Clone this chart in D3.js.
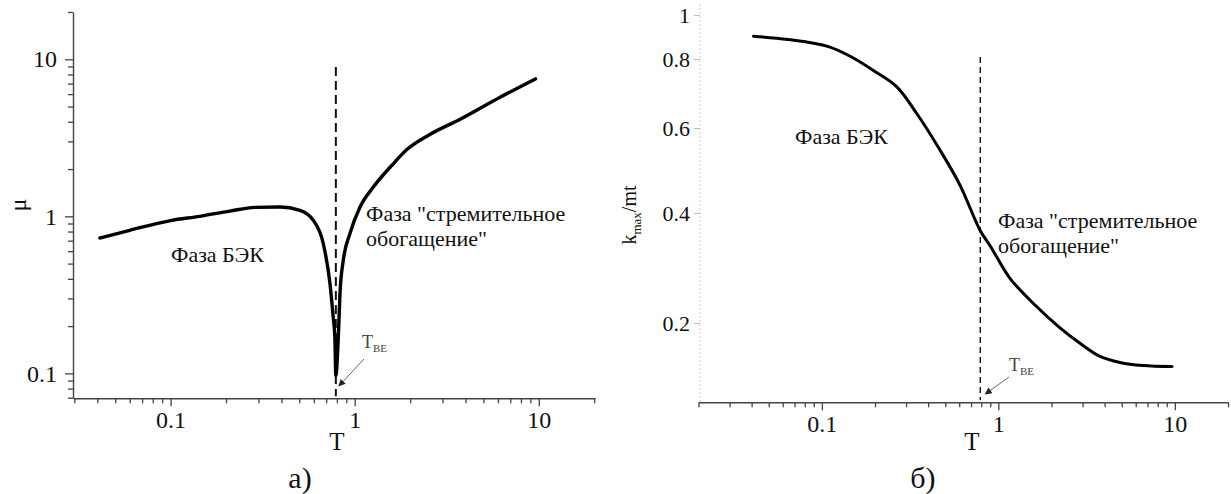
<!DOCTYPE html>
<html>
<head>
<meta charset="utf-8">
<script src="https://cdn.jsdelivr.net/npm/d3@7"></script>
<style>
  html, body { margin: 0; padding: 0; background: #fff; }
  svg { display: block; }
  svg text { font-family: "Liberation Serif", "DejaVu Serif", "Times New Roman", serif; fill: #111; }
</style>
</head>
<body>
<script>
// ---- data ----
// panel а): chemical potential μ versus temperature T
const tA  = [0.0413, 0.060, 0.1, 0.144, 0.21, 0.287, 0.393, 0.504, 0.596, 0.675, 0.734, 0.764, 0.78, 0.79,
             0.815, 0.832, 0.867, 0.942, 1.069, 1.262, 1.62, 1.92, 2.56, 3.74, 6.16, 9.6];
const muA = [0.728, 0.815, 0.94, 1.0, 1.08, 1.14, 1.146, 1.092, 0.943, 0.671, 0.373, 0.229, 0.171, 0.097,
             0.171, 0.323, 0.525, 0.776, 1.146, 1.535, 2.16, 2.66, 3.32, 4.15, 5.73, 7.5];
// panel б): k_max/mt versus temperature T
const tB = [0.041, 0.0643, 0.109, 0.149, 0.194, 0.265, 0.344, 0.467, 0.606, 0.787, 0.903, 1.163, 1.612, 2.234,
            2.90, 3.763, 4.886, 6.59, 9.64];
const kB = [0.898, 0.883, 0.852, 0.806, 0.764, 0.713, 0.638, 0.540, 0.457, 0.359, 0.324, 0.265, 0.224, 0.194,
            0.176, 0.162, 0.156, 0.153, 0.152];
const T_BE = 0.79;
const kLabels = [0.2, 0.4, 0.6, 0.8, 1];

const W = 1231, H = 494;
const FONT = '"Liberation Serif", "DejaVu Serif", "Times New Roman", serif';
const svg = d3.select("body").append("svg").attr("width", W).attr("height", H)
  .attr("font-family", FONT);

// all 1..9 multiples of each decade inside [lo, hi]
function logTicks(lo, hi) {
  const out = [];
  for (let e = -3; e <= 3; e++) {
    for (let m = 1; m <= 9; m++) {
      const v = +(m * Math.pow(10, e)).toPrecision(3);
      if (v >= lo * 0.999 && v <= hi * 1.001) out.push(v);
    }
  }
  return out;
}
const isMajor = v => Math.abs(Math.log10(v) - Math.round(Math.log10(v))) < 1e-6;
const fmt = v => isMajor(v) ? (v < 1 ? String(v) : d3.format("d")(v)) : "";

function styleAxis(g, size) {
  g.attr("font-family", FONT);
  g.select(".domain").attr("stroke", "#444").attr("stroke-width", 1.4);
  g.selectAll(".tick line").attr("stroke", "#444").attr("stroke-width", 1.3);
  g.selectAll(".tick text").attr("font-size", size).attr("fill", "#111");
}

// ---------- panel а) ----------
const xA = d3.scaleLog().domain([0.0295, 20.2]).range([73, 595]);
const yA = d3.scaleLog().domain([0.0694, 20]).range([398.3, 12]);

const gxA = svg.append("g").attr("transform", `translate(0,${yA.range()[0]})`)
  .call(d3.axisBottom(xA).tickValues(logTicks(0.03, 20)).tickFormat(fmt).tickSizeOuter(0).tickPadding(7));
gxA.selectAll(".tick line").attr("y2", d => isMajor(d) ? 8 : 5);
styleAxis(gxA, 24);

const gyA = svg.append("g").attr("transform", `translate(${xA.range()[0]},0)`)
  .call(d3.axisLeft(yA).tickValues(logTicks(0.07, 20)).tickFormat(fmt).tickSizeOuter(0).tickPadding(10));
gyA.selectAll(".tick line").attr("x2", d => isMajor(d) ? -8 : -5);
styleAxis(gyA, 24);

// critical temperature marker
svg.append("line")
  .attr("x1", xA(T_BE)).attr("x2", xA(T_BE)).attr("y1", 67).attr("y2", yA.range()[0] - 2)
  .attr("stroke", "#111").attr("stroke-width", 2).attr("stroke-dasharray", "9,5");

const lineA = d3.line().x((d, i) => xA(tA[i])).y((d, i) => yA(muA[i])).curve(d3.curveMonotoneX);
svg.append("path").datum(tA).attr("d", lineA)
  .attr("fill", "none").attr("stroke", "#000").attr("stroke-width", 3.4)
  .attr("stroke-linejoin", "round").attr("stroke-linecap", "round");

svg.append("text").attr("x", 337).attr("y", 450).attr("text-anchor", "middle").attr("font-size", 25).text("T");
svg.append("text").attr("transform", "translate(26,205) rotate(-90)").attr("text-anchor", "middle")
  .attr("font-size", 24).text("μ");
svg.append("text").attr("x", 300).attr("y", 488).attr("text-anchor", "middle").attr("font-size", 30).text("а)");

svg.append("text").attr("x", 171).attr("y", 262).attr("font-size", 22).text("Фаза БЭК");
const phA = svg.append("text").attr("x", 366).attr("y", 221).attr("font-size", 22);
phA.append("tspan").attr("x", 366).text('Фаза "стремительное');
phA.append("tspan").attr("x", 366).attr("dy", 25).text('обогащение"');

// ---------- panel б) ----------
const xB = d3.scaleLog().domain([0.02, 20]).range([698.5, 1228]);
// piecewise-logarithmic axis, anchored at the labelled values
const yB = d3.scaleLog().domain(kLabels).range([323, 213, 128, 59, 15]);
const baseB = 402.3;

const gxB = svg.append("g").attr("transform", `translate(0,${baseB})`)
  .call(d3.axisBottom(xB).tickValues(logTicks(0.02, 20)).tickFormat(fmt).tickSizeOuter(0).tickPadding(7));
gxB.selectAll(".tick line").attr("y2", d => isMajor(d) ? 8 : 5);
styleAxis(gxB, 24);

// faint vertical axis of panel б)
svg.append("line").attr("x1", 700).attr("x2", 700).attr("y1", 4).attr("y2", baseB)
  .attr("stroke", "#d4d4d4").attr("stroke-width", 1.2).attr("stroke-dasharray", "2,2");
const gyB = svg.append("g").attr("transform", "translate(700,0)")
  .call(d3.axisLeft(yB).tickValues(kLabels).tickFormat(d => String(d)).tickSize(6).tickPadding(4));
gyB.select(".domain").remove();
styleAxis(gyB, 22);
gyB.selectAll(".tick line").attr("stroke", "#bbb").attr("stroke-width", 1);

svg.append("line")
  .attr("x1", xB(T_BE)).attr("x2", xB(T_BE)).attr("y1", 57).attr("y2", baseB - 2)
  .attr("stroke", "#111").attr("stroke-width", 1.4).attr("stroke-dasharray", "6,4");

const lineB = d3.line().x((d, i) => xB(tB[i])).y((d, i) => yB(kB[i])).curve(d3.curveCatmullRom.alpha(0.5));
svg.append("path").datum(tB).attr("d", lineB)
  .attr("fill", "none").attr("stroke", "#000").attr("stroke-width", 3)
  .attr("stroke-linejoin", "round").attr("stroke-linecap", "round");

svg.append("text").attr("x", 972).attr("y", 450).attr("text-anchor", "middle").attr("font-size", 25).text("T");
const kLab = svg.append("text").attr("transform", "translate(636,215) rotate(-90)").attr("text-anchor", "middle")
  .attr("font-size", 20);
kLab.append("tspan").text("k");
kLab.append("tspan").attr("font-size", 13).attr("dy", 5).text("max");
kLab.append("tspan").attr("dy", -5).text("/mt");
svg.append("text").attr("x", 923).attr("y", 488).attr("text-anchor", "middle").attr("font-size", 30).text("б)");

svg.append("text").attr("x", 795).attr("y", 144).attr("font-size", 22).text("Фаза БЭК");
const phB = svg.append("text").attr("x", 998).attr("y", 228).attr("font-size", 22);
phB.append("tspan").attr("x", 998).text('Фаза "стремительное');
phB.append("tspan").attr("x", 998).attr("dy", 25).text('обогащение"');

// ---------- T_BE annotations with arrows ----------
const defs = svg.append("defs");
defs.append("marker").attr("id", "arrowHead").attr("viewBox", "0 0 10 10")
  .attr("refX", 9).attr("refY", 5).attr("markerWidth", 9).attr("markerHeight", 7)
  .attr("markerUnits", "userSpaceOnUse").attr("orient", "auto")
  .append("path").attr("d", "M0,0 L10,5 L0,10 z").attr("fill", "#222");

function tbeLabel(x, y, ax1, ay1, ax2, ay2) {
  const t = svg.append("text").attr("x", x).attr("y", y).attr("font-size", 18).style("fill", "#444");
  t.append("tspan").text("T");
  t.append("tspan").attr("font-size", 11).attr("dy", 4).text("BE");
  svg.append("line").attr("x1", ax1).attr("y1", ay1).attr("x2", ax2).attr("y2", ay2)
    .attr("stroke", "#666").attr("stroke-width", 1).attr("marker-end", "url(#arrowHead)");
}
tbeLabel(362, 348, 364, 359, xA(T_BE) + 3, 386);
tbeLabel(1009, 371, 1009, 377, xB(T_BE) + 5, 394);
</script>
</body>
</html>
